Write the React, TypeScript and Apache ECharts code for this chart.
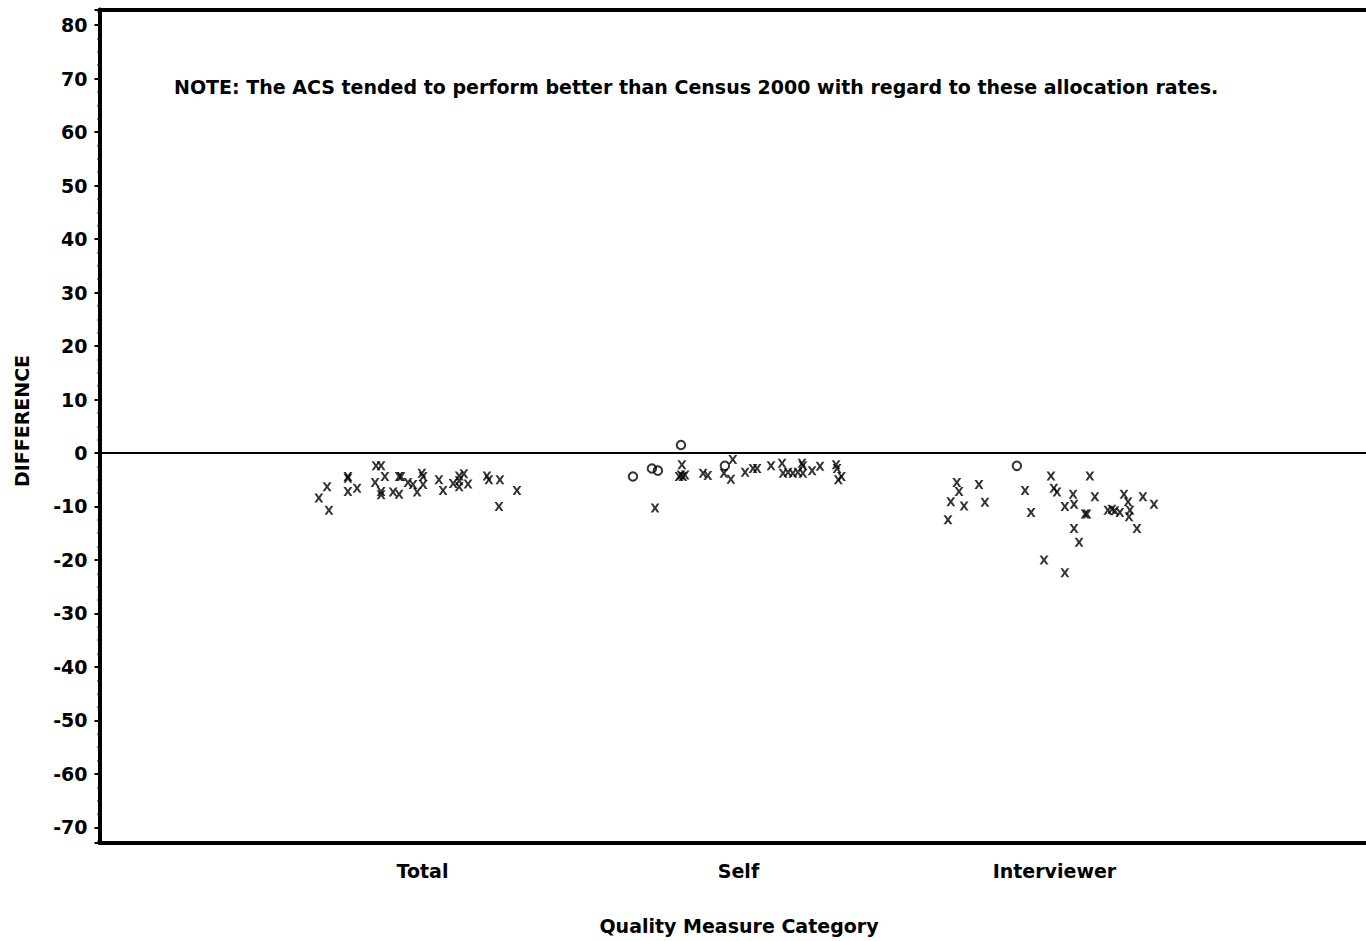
import React, { useEffect, useRef } from "react";
import * as echarts from "echarts";

// Category labels at x = 1, 2, 3
const categories = ["Total", "Self", "Interviewer"];
const yTickStep = 10;

// Total (all "x")
const totalX = [0.672, 0.698, 0.704, 0.764, 0.764, 0.764, 0.793, 0.853, 0.869, 0.85, 0.881, 0.869, 0.869, 0.907, 0.926, 0.926, 0.932, 0.954, 0.97, 0.983, 0.998, 1.002, 1.002, 1.052, 1.065, 1.097, 1.116, 1.116, 1.116, 1.131, 1.144, 1.204, 1.21, 1.245, 1.242, 1.299];
const totalY = [-8.4, -6.3, -10.7, -4.4, -4.7, -7.2, -6.6, -2.4, -2.4, -5.5, -4.4, -7.2, -7.8, -7.3, -7.7, -4.4, -4.4, -5.5, -5.9, -7.3, -3.8, -4.4, -5.9, -5.0, -7.0, -5.7, -4.3, -5.2, -6.3, -3.9, -5.8, -4.3, -5.0, -5.0, -10.0, -7.0];

// Self ("x" markers)
const selfX = [1.736, 1.821, 1.812, 1.818, 1.824, 1.831, 1.888, 1.903, 1.954, 1.982, 1.976, 2.021, 2.046, 2.059, 2.103, 2.138, 2.141, 2.157, 2.172, 2.188, 2.201, 2.204, 2.204, 2.233, 2.258, 2.309, 2.312, 2.316, 2.326];
const selfY = [-10.3, -2.2, -4.4, -4.1, -4.4, -4.1, -3.8, -4.2, -3.8, -1.2, -4.9, -3.6, -2.9, -2.9, -2.4, -1.9, -3.8, -3.6, -3.8, -3.6, -1.9, -2.4, -3.8, -3.3, -2.5, -2.2, -2.9, -5.0, -4.4];
// Self ("o" markers)
const selfCircleX = [1.666, 1.726, 1.745, 1.818, 1.957];
const selfCircleY = [-4.4, -2.9, -3.3, 1.5, -2.4];

// Interviewer ("x" markers)
const interviewerX = [2.663, 2.672, 2.691, 2.698, 2.714, 2.761, 2.78, 2.907, 2.926, 2.967, 2.989, 2.998, 3.008, 3.033, 3.033, 3.059, 3.062, 3.062, 3.078, 3.097, 3.103, 3.112, 3.128, 3.169, 3.182, 3.191, 3.207, 3.22, 3.233, 3.236, 3.239, 3.261, 3.28, 3.315];
const interviewerY = [-12.5, -9.1, -5.5, -7.2, -9.9, -5.9, -9.2, -7.0, -11.1, -20.0, -4.3, -6.6, -7.3, -22.4, -10.0, -7.7, -9.6, -14.1, -16.7, -11.4, -11.4, -4.3, -8.2, -10.7, -10.5, -10.8, -11.1, -7.7, -9.1, -11.9, -10.7, -14.1, -8.2, -9.6];
// Interviewer ("o" markers)
const interviewerCircleX = [2.881];
const interviewerCircleY = [-2.4];

const noteText =
  "NOTE: The ACS tended to perform better than Census 2000 with regard to these allocation rates.";
const yTitle = "DIFFERENCE";
const xTitle = "Quality Measure Category";

const FONT = '"DejaVu Sans", "Liberation Sans", Arial, sans-serif';
const FS = 19;
const X_PATH =
  "path://M0,0 L2.7,0 L5,3.3 L7.3,0 L10,0 L6.5,5 L10,10 L7.3,10 L5,6.7 L2.7,10 L0,10 L3.5,5 Z";

const zip = (xs: number[], ys: number[]) => xs.map((x, i) => [x, ys[i]]);

export default function App() {
  const ref = useRef<HTMLDivElement>(null);

  useEffect(() => {
    if (!ref.current) return;
    const chart = echarts.init(ref.current, undefined, { renderer: "svg" });

    const xSeries = (data: number[][]) => ({
      type: "scatter",
      data,
      symbol: X_PATH,
      symbolSize: [9, 9],
      itemStyle: { color: "#000" },
      silent: true,
    });
    const oSeries = (data: number[][]) => ({
      type: "scatter",
      data,
      symbol: "circle",
      symbolSize: 8.5,
      itemStyle: { color: "rgba(0,0,0,0)", borderColor: "#000", borderWidth: 2 },
      silent: true,
    });

    chart.setOption({
      animation: false,
      backgroundColor: "#fff",
      grid: { left: 99.5, right: 0, top: 9.5, bottom: 98, containLabel: false },
      xAxis: [
        {
          type: "value",
          position: "bottom",
          min: -0.0222,
          max: 3.986,
          splitNumber: 4,
          axisLine: { show: true, onZero: false, lineStyle: { color: "#000", width: 4 } },
          axisTick: { show: false },
          splitLine: { show: false },
          axisLabel: {
            showMinLabel: false,
            showMaxLabel: false,
            margin: 18,
            color: "#000",
            fontWeight: "bold",
            fontSize: FS,
            fontFamily: FONT,
            formatter: (v: number) => {
              const i = Math.round(v);
              return Math.abs(v - i) < 1e-6 && i >= 1 && i <= categories.length ? categories[i - 1] : "";
            },
          },
        },
        {
          type: "value",
          position: "top",
          min: -0.0222,
          max: 3.986,
          axisLine: { show: true, onZero: false, lineStyle: { color: "#000", width: 4 } },
          axisTick: { show: false },
          axisLabel: { show: false },
          splitLine: { show: false },
        },
      ],
      yAxis: {
        type: "value",
        min: -72.9,
        max: 82.9,
        splitNumber: 16,
        axisLine: { show: true, onZero: false, lineStyle: { color: "#000", width: 4 } },
        axisTick: { show: true, length: 5, lineStyle: { color: "#000", width: 2 } },
        minorTick: { show: true, splitNumber: 4, length: 2, lineStyle: { color: "#000", width: 1.5 } },
        splitLine: { show: false },
        axisLabel: {
          showMinLabel: false,
          showMaxLabel: false,
          margin: 12,
          color: "#000",
          fontWeight: "bold",
          fontSize: FS,
          fontFamily: FONT,
          formatter: (v: number) => (Math.abs(v / yTickStep - Math.round(v / yTickStep)) < 1e-6 ? String(Math.round(v)) : ""),
        },
      },
      series: [
        {
          ...xSeries(zip(totalX, totalY)),
          markLine: {
            silent: true,
            symbol: ["none", "none"],
            label: { show: false },
            lineStyle: { color: "#000", width: 2, type: "solid" },
            data: [{ yAxis: 0 }],
          },
        },
        xSeries(zip(selfX, selfY)),
        oSeries(zip(selfCircleX, selfCircleY)),
        xSeries(zip(interviewerX, interviewerY)),
        oSeries(zip(interviewerCircleX, interviewerCircleY)),
      ],
      graphic: [
        {
          type: "text",
          left: 174,
          top: 77,
          style: { text: noteText, fill: "#000", font: `bold ${FS}px ${FONT}` },
        },
        {
          type: "text",
          x: 22,
          y: 421,
          rotation: Math.PI / 2,
          style: { text: yTitle, fill: "#000", font: `bold ${FS}px ${FONT}`, align: "center", verticalAlign: "middle" },
        },
        {
          type: "text",
          x: 739,
          y: 926,
          style: { text: xTitle, fill: "#000", font: `bold ${FS}px ${FONT}`, align: "center", verticalAlign: "middle" },
        },
      ],
    });

    return () => chart.dispose();
  }, []);

  return (
    <div
      ref={ref}
      style={{ position: "fixed", left: 0, top: 0, width: 1366, height: 941, background: "#fff" }}
    />
  );
}
